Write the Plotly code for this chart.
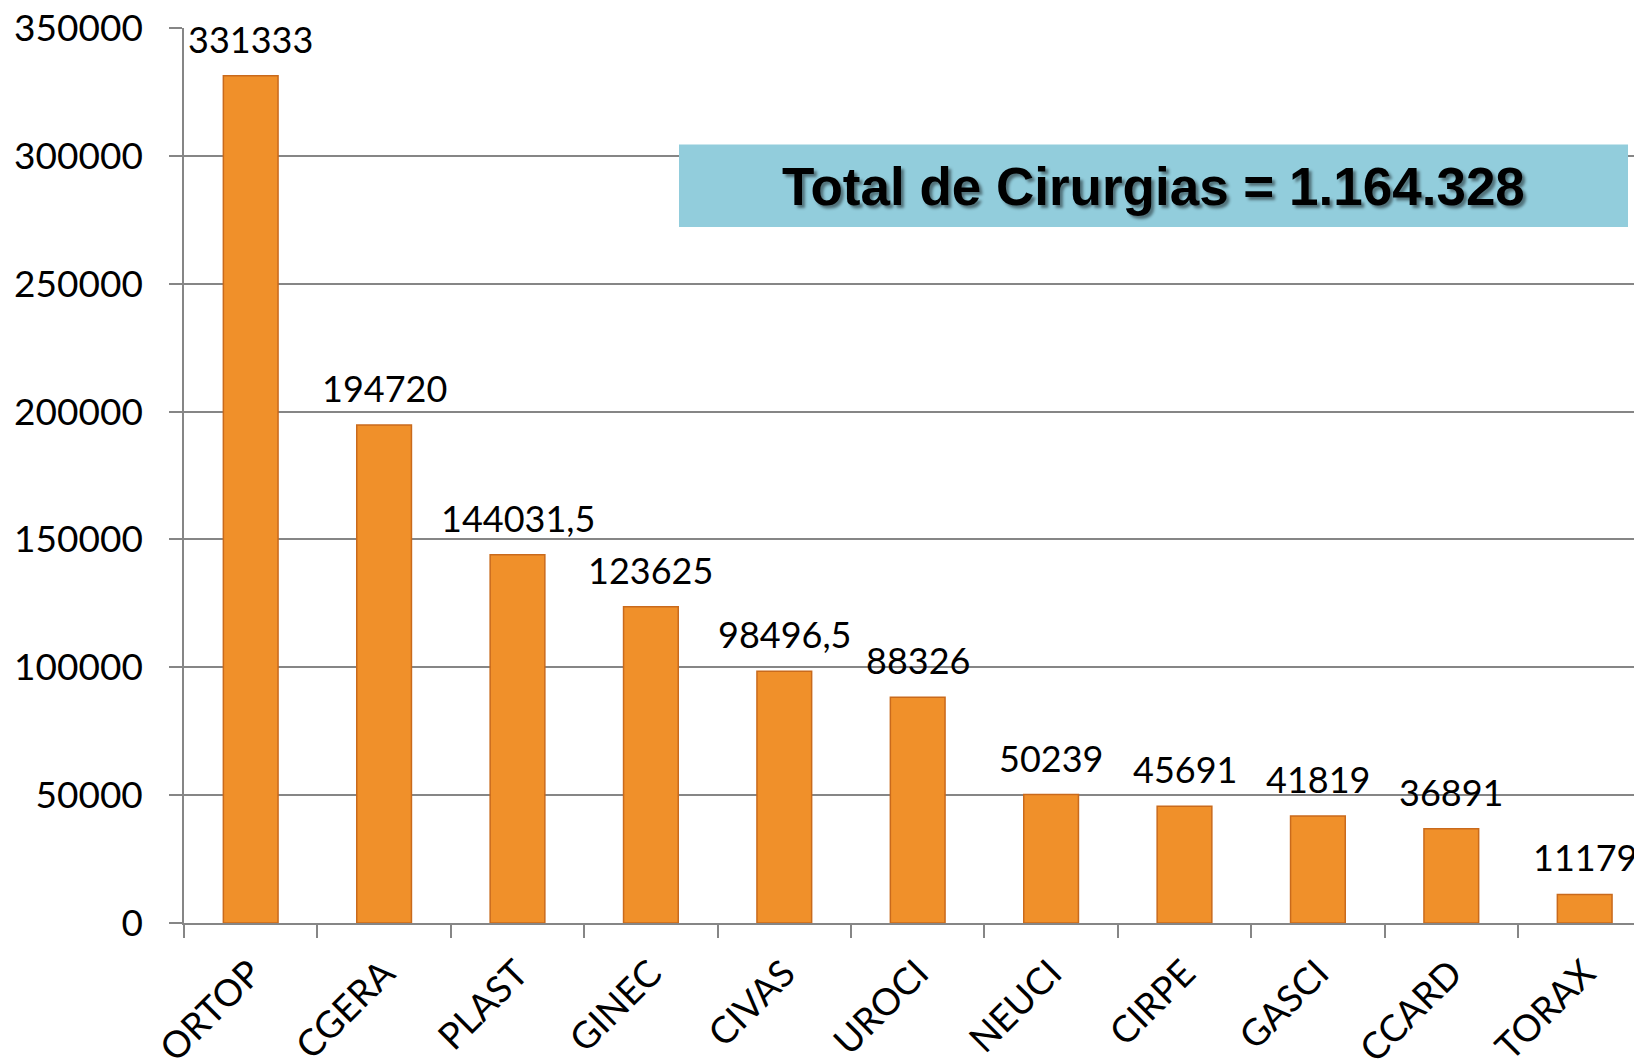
import plotly.graph_objects as go

categories = ["ORTOP", "CGERA", "PLAST", "GINEC", "CIVAS", "UROCI", "NEUCI", "CIRPE", "GASCI", "CCARD", "TORAX"]
values = [331333, 194720, 144031.5, 123625, 98496.5, 88326, 50239, 45691, 41819, 36891, 11179]
value_labels = ["331333", "194720", "144031,5", "123625", "98496,5", "88326", "50239", "45691", "41819", "36891", "11179"]
y_ticks = [0, 50000, 100000, 150000, 200000, 250000, 300000, 350000]
total_text = "Total de Cirurgias = 1.164.328"

# page body has an 8px margin; work in window pixels and offset
OFF = 8
WIN_W, WIN_H = 1642, 1059
W, H = WIN_W - OFF, WIN_H - OFF
plot_left, plot_top, plot_bottom, plot_right = 184, 28, 923, 1642
ml, mt = plot_left - OFF, plot_top - OFF
mb = WIN_H - plot_bottom
mr = WIN_W - plot_right
plot_w = plot_right - plot_left
plot_h = plot_bottom - plot_top
cat_w = 133.4

fig = go.Figure()
fig.add_trace(go.Bar(
    x=categories, y=values, width=0.41,
    marker=dict(color="#F0902A", line=dict(color="#C96A1C", width=1.5)),
    hoverinfo="x+y",
))

for c, v, t in zip(categories, values, value_labels):
    fig.add_annotation(x=c, y=v, text=t, showarrow=False, yanchor="bottom",
                       yshift=13, font=dict(family="Lato, Carlito, sans-serif", size=36, color="#000000"))

# highlighted total box (window pixel coords)
bx0, bx1, by0, by1 = 679, 1628, 144.5, 227
fig.add_shape(type="rect", xref="paper", yref="paper",
              x0=(bx0 - plot_left) / plot_w, x1=(bx1 - plot_left) / plot_w,
              y0=(plot_bottom - by1) / plot_h, y1=(plot_bottom - by0) / plot_h,
              fillcolor="#92CDDC", line=dict(width=0), layer="above")
fig.add_annotation(xref="paper", yref="paper",
                   x=(1153 - plot_left) / plot_w, y=(plot_bottom - 186) / plot_h,
                   text="<b>" + total_text + "</b>", showarrow=False,
                   xanchor="center", yanchor="middle",
                   font=dict(family="Liberation Sans, Arial, sans-serif", size=53, color="#000000",
                             shadow="3px 3px 3px rgba(0,0,0,0.45)"))

fig.update_layout(
    width=W, height=H,
    margin=dict(l=ml, r=mr, t=mt, b=mb, pad=0, autoexpand=False),
    paper_bgcolor="white", plot_bgcolor="white",
    showlegend=False, bargap=0.59,
    font=dict(family="Lato, Carlito, sans-serif", size=36, color="#000000"),
)
fig.update_xaxes(
    type="category", range=[-0.5, -0.5 + plot_w / cat_w], automargin=False,
    tickangle=-45, ticks="outside", tickson="boundaries", ticklen=13,
    tickcolor="#868686", tickwidth=1.5,
    showline=True, linecolor="#868686", linewidth=1.5,
    showgrid=False, tickfont=dict(size=37), ticklabelstandoff=12,
    ticklabeloverflow="allow",
)
fig.update_yaxes(
    range=[0, 350000], tickvals=y_ticks, ticktext=[str(v) for v in y_ticks], automargin=False,
    ticks="outside", ticklen=13, tickcolor="#868686", tickwidth=1.5,
    showline=True, linecolor="#868686", linewidth=1.5,
    showgrid=True, gridcolor="#868686", gridwidth=1.5,
    zeroline=False, ticklabelstandoff=19, tickfont=dict(size=37),
    ticklabeloverflow="allow",
)

fig.write_html("out.html")
